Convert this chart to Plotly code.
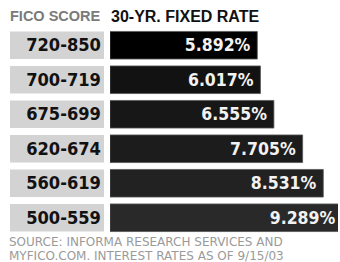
import plotly.graph_objects as go

# ---- data ----
fico_scores = ["720-850", "700-719", "675-699", "620-674", "560-619", "500-559"]
rates = [5.892, 6.017, 6.555, 7.705, 8.531, 9.289]
header_left = "FICO SCORE"
header_right = "30-YR. FIXED RATE"
source_line1 = "SOURCE: INFORMA RESEARCH SERVICES AND"
source_line2 = "MYFICO.COM. INTEREST RATES AS OF 9/15/03"

# ---- style ----
W, H = 340, 262
bar_colors = ["#000000", "#121212", "#171717", "#1c1c1c", "#222222", "#292929"]
label_box_color = "#d3d3d3"
num_font = "Liberation Sans Narrow, Arial Narrow, DejaVu Sans Condensed, sans-serif"

fig = go.Figure()

# label boxes (one full-width box per category)
fig.add_trace(go.Bar(
    y=fico_scores,
    x=[1] * len(fico_scores),
    orientation="h",
    xaxis="x2",
    marker=dict(color=label_box_color, line=dict(width=0)),
    text=fico_scores,
    textposition="inside",
    insidetextanchor="end",
    textfont=dict(family=num_font, size=23.5, color="#111111", weight="bold"),
    hoverinfo="skip",
    showlegend=False,
))

# rate bars
fig.add_trace(go.Bar(
    y=fico_scores,
    x=rates,
    orientation="h",
    marker=dict(color=bar_colors, line=dict(width=0.8, color="#555555")),
    texttemplate="%{x:.3f}%\u2005",
    textposition="inside",
    insidetextanchor="end",
    textfont=dict(family=num_font, size=17.5, color="#f2f2f2", weight="bold"),
    hoverinfo="skip",
    showlegend=False,
))

plot_h = H - 28 - 26.5

fig.update_layout(
    width=W, height=H,
    margin=dict(l=0, r=0, t=28, b=26.5),
    paper_bgcolor="white", plot_bgcolor="white",
    bargap=0.2,
    xaxis=dict(domain=[110 / W, 338 / W], range=[0, 9.12], visible=False, fixedrange=True),
    xaxis2=dict(domain=[10 / W, 104 / W], range=[0, 1], visible=False, fixedrange=True),
    yaxis=dict(autorange="reversed", visible=False, fixedrange=True),
    annotations=[
        dict(text=header_left, xref="paper", yref="paper", x=8 / W, y=1 + 12 / plot_h,
             xanchor="left", yanchor="middle", showarrow=False,
             font=dict(family="Liberation Sans, Arial, sans-serif", size=14.5, color="#7a7a7a", weight="bold")),
        dict(text=header_right, xref="paper", yref="paper", x=109 / W, y=1 + 12 / plot_h,
             xanchor="left", yanchor="middle", showarrow=False,
             font=dict(family="Liberation Sans, Arial, sans-serif", size=16, color="#111111", weight="bold")),
        dict(text=source_line1, xref="paper", yref="paper", x=7 / W, y=-7.5 / plot_h,
             xanchor="left", yanchor="middle", showarrow=False,
             font=dict(family="DejaVu Sans, sans-serif", size=12, color="#9a9a9a")),
        dict(text=source_line2, xref="paper", yref="paper", x=7 / W, y=-21.5 / plot_h,
             xanchor="left", yanchor="middle", showarrow=False,
             font=dict(family="DejaVu Sans, sans-serif", size=12, color="#9a9a9a")),
    ],
)

fig.write_html("out.html", config={"displayModeBar": False},
               post_script="document.body.style.margin='0';")
